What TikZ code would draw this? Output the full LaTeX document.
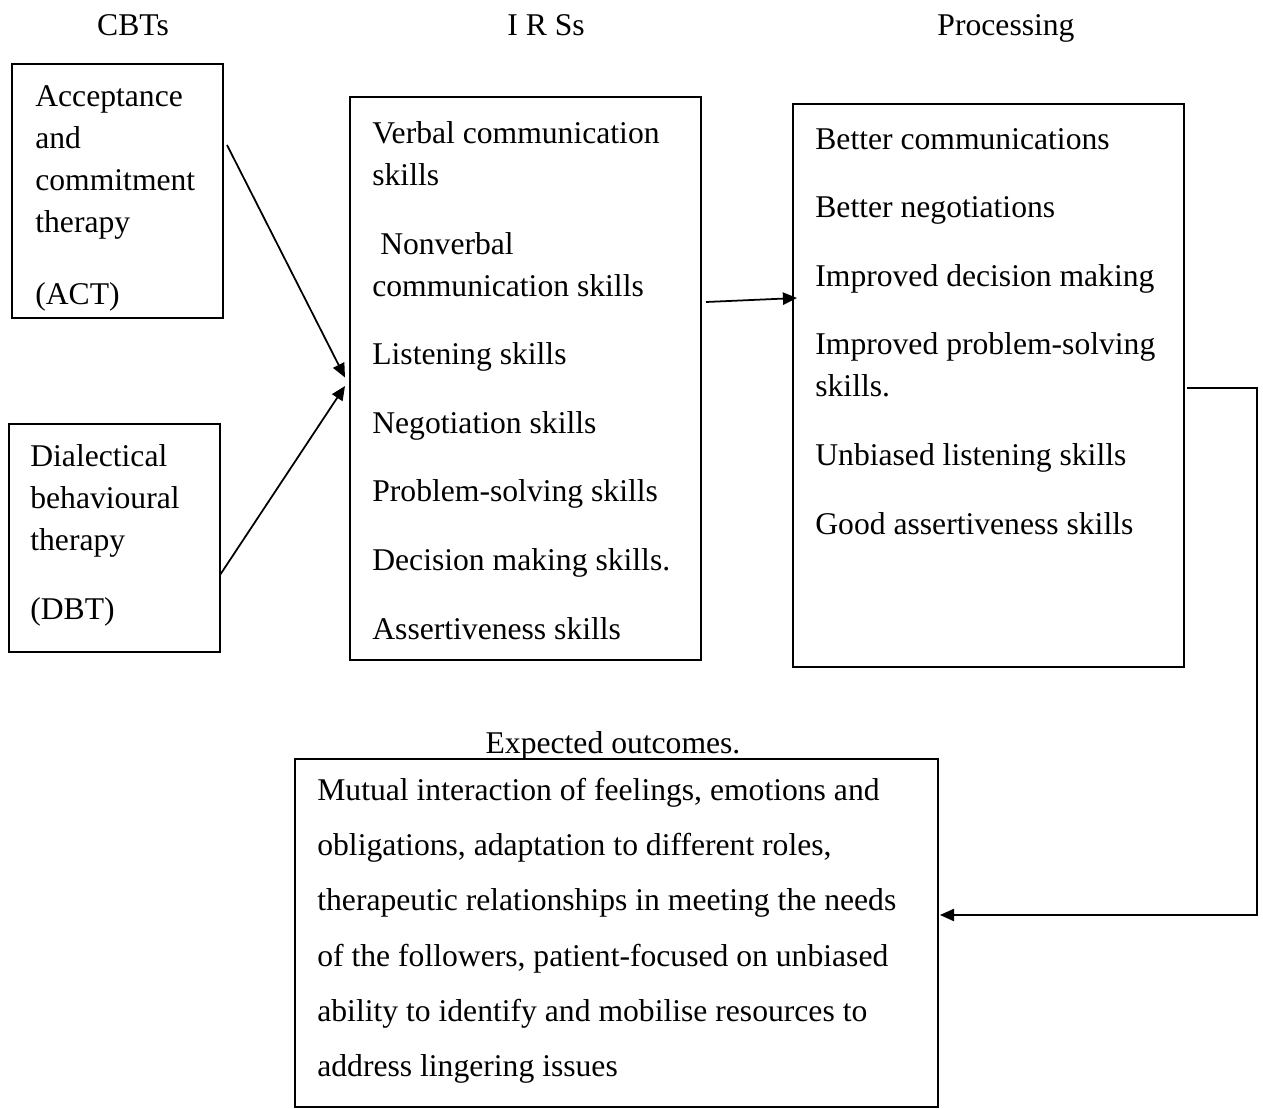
\documentclass[tikz,border=0pt]{standalone}
\usepackage{fontspec}
\setmainfont{Liberation Serif}
\usetikzlibrary{arrows.meta,positioning,calc}

\begin{document}
\begin{tikzpicture}[
    >={Triangle[length=8pt,width=7pt]},
    box/.style={draw=black, line width=1.3pt, inner sep=0pt, outer sep=0pt},
    box text/.style={anchor=base west, align=left, inner sep=0pt, font=\fontsize{18}{24}\selectfont},
    head/.style={anchor=base, inner sep=0pt, font=\fontsize{18}{24}\selectfont},
    link/.style={->, line width=1pt},
    back link/.style={->, line width=0.8pt},
]

% Frame
\useasboundingbox (0,0) rectangle (25.26,-22.18);

% Column headings
\node[head] (hcbt) at (2.66,-0.72) {CBTs};
\node[head] (hirs) at (10.92,-0.72) {I R Ss};
\node[head] (hproc) at (20.12,-0.72) {Processing};
\node[head] (hout) at (12.26,-15.06) {Expected outcomes.};

% Boxes
\node[box, minimum width=4.22cm, minimum height=5.08cm] (act) at (2.35,-3.82) {};
\node[box, minimum width=4.22cm, minimum height=4.56cm] (dbt) at (2.29,-10.76) {};
\node[box, minimum width=7.02cm, minimum height=11.26cm] (irs) at (10.51,-7.57) {};
\node[box, minimum width=7.82cm, minimum height=11.26cm] (proc) at (19.77,-7.71) {};
\node[box, minimum width=12.86cm, minimum height=6.96cm] (out) at (12.33,-18.66) {};

% Box texts (placed on their last line)
\node[box text] (acttext) at (0.70,-6.10) {Acceptance\\and\\commitment\\therapy\\[17pt](ACT)};
\node[box text] (dbttext) at (0.60,-12.38) {Dialectical\\behavioural\\therapy\\[15pt](DBT)};
\node[box text] (irstext) at (7.44,-12.78) {Verbal communication\\skills\\[15pt]
    \ Nonverbal\\communication skills\\[15pt]
    Listening skills\\[15pt]
    Negotiation skills\\[15pt]
    Problem-solving skills\\[15pt]
    Decision making skills.\\[15pt]
    Assertiveness skills};
\node[box text] (proctext) at (16.30,-10.68) {Better communications\\[15pt]
    Better negotiations\\[15pt]
    Improved decision making\\[15pt]
    Improved problem-solving\\skills.\\[15pt]
    Unbiased listening skills\\[15pt]
    Good assertiveness skills};
\node[box text, font=\fontsize{18}{31.3}\selectfont] (outtext) at (6.34,-21.52) {Mutual interaction of feelings, emotions and\\
    obligations, adaptation to different roles,\\
    therapeutic relationships in meeting the needs\\
    of the followers, patient-focused on unbiased\\
    ability to identify and mobilise resources to\\
    address lingering issues};

% Arrows
\draw[link] ([xshift=0.08cm,yshift=0.92cm]act.east) -- ([xshift=-0.1cm,yshift=0.02cm]irs.west);
\draw[link] ([yshift=-0.74cm]dbt.east) -- ([xshift=-0.1cm,yshift=-0.15cm]irs.west);
\draw[link] ([xshift=0.1cm,yshift=1.53cm]irs.east) -- ([xshift=0.08cm,yshift=1.75cm]proc.west);

% Feedback to outcomes
\draw[back link] ([xshift=0.06cm,yshift=-0.05cm]proc.east) -- ++(1.4,0) |- ([xshift=0.04cm,yshift=0.36cm]out.east);

\end{tikzpicture}
\end{document}
